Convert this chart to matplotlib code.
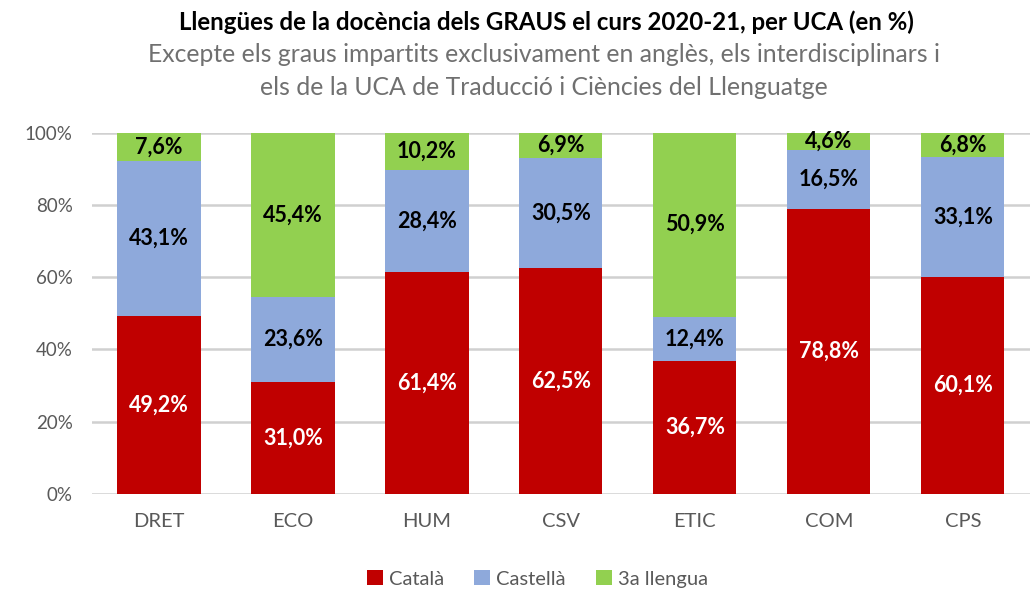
import numpy as np
import matplotlib.pyplot as plt
from matplotlib.ticker import FuncFormatter

plt.rcParams['font.family'] = ['Lato', 'DejaVu Sans']

ucas = ['DRET', 'ECO', 'HUM', 'CSV', 'ETIC', 'COM', 'CPS']
catala = [49.2, 31.0, 61.4, 62.5, 36.7, 78.8, 60.1]
castella = [43.1, 23.6, 28.4, 30.5, 12.4, 16.5, 33.1]
tercera = [7.6, 45.4, 10.2, 6.9, 50.9, 4.6, 6.8]
noms = ['Català', 'Castellà', '3a llengua']
colors = ['#C00000', '#8EA9DB', '#92D050']
text_colors = ['white', 'black', 'black']

fig = plt.figure(figsize=(10.34, 5.90), dpi=100)
ax = fig.add_axes([0.089, 0.163, 0.907, 0.612])

x = np.arange(len(ucas))
base = np.zeros(len(ucas))
for vals, c, tc, nom in zip([catala, castella, tercera], colors, text_colors, noms):
    vals = np.array(vals)
    ax.bar(x, vals, 0.62, bottom=base, color=c, label=nom, zorder=3)
    for xi, b, v in zip(x, base, vals):
        ax.text(xi, b + v / 2, ('%.1f%%' % v).replace('.', ','), ha='center', va='center',
                color=tc, fontsize=15.5, fontweight='bold', zorder=4)
    base = base + vals

ax.set_xlim(-0.5, 6.5)
ax.set_ylim(0, 100)
ax.set_yticks(np.arange(0, 101, 20))
ax.yaxis.set_major_formatter(FuncFormatter(lambda v, p: '%d%%' % v))
ax.set_xticks(x)
ax.set_xticklabels(ucas)
ax.grid(axis='y', color='#D0D0D0', linewidth=1.8, zorder=0)
for s in ax.spines.values():
    s.set_visible(False)
ax.tick_params(length=0, labelsize=13.5, labelcolor='#595959')
ax.tick_params(axis='x', labelsize=14.5, pad=14)
ax.tick_params(axis='y', pad=14)

fig.text(0.528, 0.962, 'Llengües de la docència dels GRAUS el curs 2020-21, per UCA (en %)',
         ha='center', va='center', fontsize=17.3, fontweight='bold')
fig.text(0.526, 0.907, 'Excepte els graus impartits exclusivament en anglès, els interdisciplinars i',
         ha='center', va='center', fontsize=17.8, color='#707070')
fig.text(0.526, 0.851, 'els de la UCA de Traducció i Ciències del Llenguatge',
         ha='center', va='center', fontsize=17.8, color='#707070')

ax.legend(loc='center', bbox_to_anchor=(0.475, -0.235),
          ncol=3, frameon=False, fontsize=14.5, handlelength=0.8, handleheight=0.8,
          handletextpad=0.3, columnspacing=1.5, labelcolor='#595959')

fig.savefig('out.png', dpi=100)
